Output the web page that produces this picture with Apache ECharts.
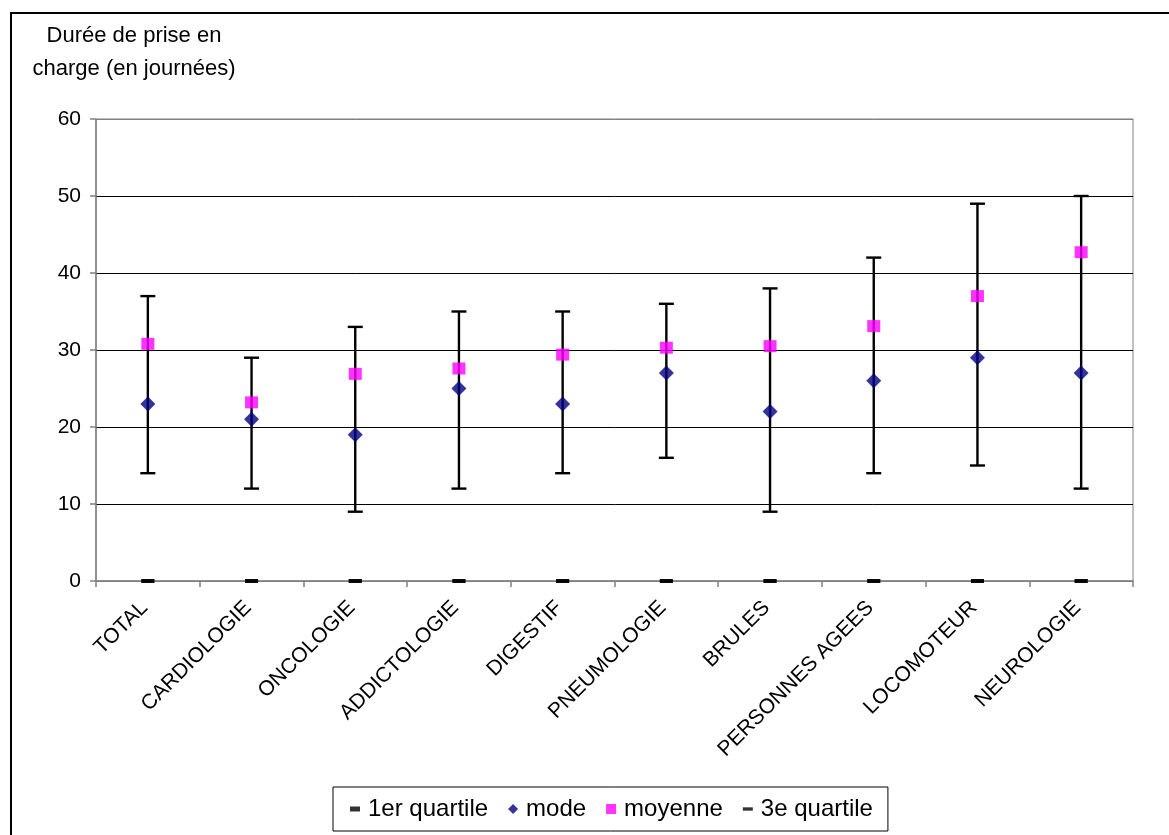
<!DOCTYPE html>
<html>
<head>
<meta charset="utf-8">
<script src="https://cdn.jsdelivr.net/npm/echarts@6/dist/echarts.min.js"></script>
<style>
  html, body { margin: 0; padding: 0; background: #fff; }
  #chart { width: 1169px; height: 835px; }
</style>
</head>
<body>
<div id="chart"></div>
<script>
// ---- Data ----
const categories = ['TOTAL', 'CARDIOLOGIE', 'ONCOLOGIE', 'ADDICTOLOGIE', 'DIGESTIF',
  'PNEUMOLOGIE', 'BRULES', 'PERSONNES AGEES', 'LOCOMOTEUR', 'NEUROLOGIE'];
const modeValues    = [23, 21, 19, 25, 23, 27, 22, 26, 29, 27];
const moyenneValues = [30.8, 23.2, 26.9, 27.6, 29.4, 30.3, 30.5, 33.1, 37.0, 42.7];
const errLow        = [14, 12, 9, 12, 14, 16, 9, 14, 15, 12];
const errHigh       = [37, 29, 33, 35, 35, 36, 38, 42, 49, 50];
const q1Markers     = [0, 0, 0, 0, 0, 0, 0, 0, 0, 0];
const q3Markers     = [0, 0, 0, 0, 0, 0, 0, 0, 0, 0];
const yTicks        = [0, 10, 20, 30, 40, 50, 60];

const FONT = 'Liberation Sans, Arial, sans-serif';

const chart = echarts.init(document.getElementById('chart'), null, { renderer: 'canvas' });

const errData = categories.map((c, i) => [i, errLow[i], errHigh[i]]);

const option = {
  animation: false,
  backgroundColor: '#fff',
  textStyle: { fontFamily: FONT },
  graphic: [
    {
      type: 'rect', silent: true, z: -1,
      shape: { x: 11, y: 13, width: 1300, height: 1000 },
      style: { fill: 'none', stroke: '#000', lineWidth: 2 }
    },
    {
      type: 'text', silent: true,
      x: 134, y: 52,
      style: {
        text: 'Durée de prise en\ncharge (en journées)',
        fontFamily: FONT, fontSize: 22, fill: '#000',
        textAlign: 'center', textVerticalAlign: 'middle', lineHeight: 33
      }
    }
  ],
  grid: {
    left: 96, right: 36, top: 119, bottom: 254,
    show: true, borderColor: '#808080', borderWidth: 1, backgroundColor: '#fff'
  },
  legend: {
    left: 333, top: 787,
    padding: [10, 15, 10, 17],
    borderColor: '#000', borderWidth: 1,
    itemGap: 20, itemWidth: 10, itemHeight: 10,
    textStyle: { fontFamily: FONT, fontSize: 24, color: '#000', padding: [0, 0, 0, 3] },
    data: [
      { name: '1er quartile', icon: 'path://M0,0H6V3H0Z' },
      { name: 'mode', icon: 'diamond' },
      { name: 'moyenne', icon: 'rect' },
      { name: '3e quartile', icon: 'path://M0,0H12V4H0Z' }
    ]
  },
  xAxis: {
    type: 'category',
    data: categories,
    boundaryGap: true,
    axisLine: { lineStyle: { color: '#808080', width: 1.5 } },
    axisTick: { show: true, length: 6, lineStyle: { color: '#808080', width: 1.5 } },
    axisLabel: {
      rotate: 45, interval: 0, margin: 20,
      fontFamily: FONT, fontSize: 21, color: '#000',
      padding: [0, 5, 0, 0]
    },
    splitLine: { show: false }
  },
  yAxis: {
    type: 'value',
    min: 0, max: 60, interval: 10,
    axisLine: { show: true, lineStyle: { color: '#808080', width: 1.5 } },
    axisTick: { show: true, length: 6, lineStyle: { color: '#808080', width: 1.5 } },
    axisLabel: {
      margin: 15, fontFamily: FONT, fontSize: 21, color: '#000',
      formatter: v => (yTicks.indexOf(v) >= 0 ? String(v) : '')
    },
    splitLine: {
      show: true,
      lineStyle: { color: ['#808080', '#000', '#000', '#000', '#000', '#000', '#808080'], width: 1 }
    }
  },
  series: [
    {
      name: 'errorBars',
      type: 'custom',
      data: errData,
      encode: { x: 0, y: [1, 2] },
      z: 2,
      renderItem: function (params, api) {
        const xi = api.value(0);
        const lo = api.coord([xi, api.value(1)]);
        const hi = api.coord([xi, api.value(2)]);
        const half = 7.5;
        const st = { stroke: '#000', lineWidth: 2.4 };
        return {
          type: 'group',
          children: [
            { type: 'line', shape: { x1: lo[0], y1: lo[1], x2: hi[0], y2: hi[1] }, style: st },
            { type: 'line', shape: { x1: lo[0] - half, y1: lo[1], x2: lo[0] + half, y2: lo[1] }, style: st },
            { type: 'line', shape: { x1: hi[0] - half, y1: hi[1], x2: hi[0] + half, y2: hi[1] }, style: st }
          ]
        };
      }
    },
    {
      name: '1er quartile', type: 'scatter', data: q1Markers, z: 3,
      symbol: 'rect', symbolSize: [13, 4],
      itemStyle: { color: '#000' }
    },
    {
      name: 'mode', type: 'scatter', data: modeValues, z: 4,
      symbol: 'diamond', symbolSize: 15,
      itemStyle: { color: '#000080' }
    },
    {
      name: 'moyenne', type: 'scatter', data: moyenneValues, z: 4,
      symbol: 'rect', symbolSize: [13, 12],
      itemStyle: { color: '#FF00FF' }
    },
    {
      name: '3e quartile', type: 'scatter', data: q3Markers, z: 3,
      symbol: 'rect', symbolSize: [13, 4],
      itemStyle: { color: '#000' }
    }
  ]
};

chart.setOption(option);
</script>
</body>
</html>
